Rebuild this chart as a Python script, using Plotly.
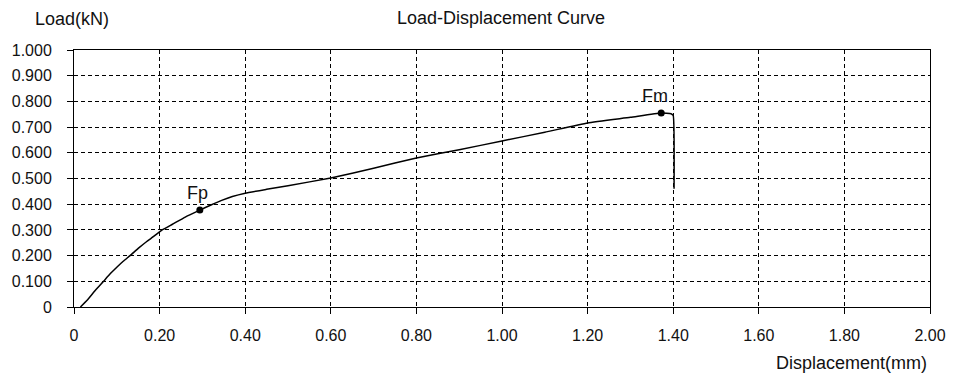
import plotly.graph_objects as go

# Curve data (displacement in mm, load in kN)
disp = [0.015, 0.03, 0.05, 0.069, 0.085, 0.10, 0.115, 0.131, 0.15, 0.17, 0.18,
        0.206, 0.23, 0.26, 0.294, 0.32, 0.345, 0.37, 0.40, 0.45, 0.50, 0.60,
        0.70, 0.80, 0.90, 1.00, 1.10, 1.20, 1.30, 1.372, 1.395, 1.400, 1.402]
load = [0.0, 0.025, 0.065, 0.10, 0.13, 0.155, 0.178, 0.20, 0.228, 0.255, 0.267,
        0.30, 0.322, 0.35, 0.377, 0.397, 0.415, 0.43, 0.443, 0.458, 0.472, 0.502,
        0.54, 0.58, 0.612, 0.646, 0.68, 0.716, 0.738, 0.755, 0.752, 0.745, 0.46]

# Marked points
point_names = ["Fp", "Fm"]
point_disp = [0.294, 1.372]
point_load = [0.377, 0.755]

# Tick labels
x_tickvals = [0, 0.2, 0.4, 0.6, 0.8, 1.0, 1.2, 1.4, 1.6, 1.8, 2.0]
x_ticktext = ["0", "0.20", "0.40", "0.60", "0.80", "1.00", "1.20", "1.40", "1.60", "1.80", "2.00"]
y_tickvals = [0, 0.1, 0.2, 0.3, 0.4, 0.5, 0.6, 0.7, 0.8, 0.9, 1.0]
y_ticktext = ["0", "0.100", "0.200", "0.300", "0.400", "0.500", "0.600", "0.700", "0.800", "0.900", "1.000"]

FONT = "Liberation Sans, Arial, sans-serif"
TXT = "#111111"

fig = go.Figure()
fig.add_trace(go.Scatter(x=disp, y=load, mode="lines",
                         line=dict(color="black", width=1.5, shape="spline", smoothing=0.4),
                         hoverinfo="skip"))
fig.add_trace(go.Scatter(x=point_disp, y=point_load, mode="markers",
                         marker=dict(color="black", size=7), hoverinfo="skip"))

shifts = [-2, -6]
for name, px, py, sx in zip(point_names, point_disp, point_load, shifts):
    fig.add_annotation(x=px, y=py, text=name, showarrow=False, xanchor="center",
                       yanchor="bottom", yshift=5, xshift=sx,
                       font=dict(family=FONT, size=18, color=TXT))

axis_common = dict(showline=True, linecolor="black", linewidth=1, mirror=True,
                   ticks="outside", ticklen=6, tickcolor="black", tickwidth=1,
                   showgrid=True, gridcolor="black", gridwidth=1, griddash="4px,3px",
                   zeroline=False, tickfont=dict(family=FONT, size=16, color=TXT))

fig.update_xaxes(range=[0, 2], tickvals=x_tickvals, ticktext=x_ticktext,
                 ticklabelstandoff=8, **axis_common)
fig.update_yaxes(range=[0, 1], tickvals=y_tickvals, ticktext=y_ticktext,
                 ticklabelstandoff=12, **axis_common)

fig.add_annotation(xref="paper", yref="paper", x=-0.002, y=1.1206, text="Load(kN)",
                   showarrow=False, xanchor="center", yanchor="middle",
                   font=dict(family=FONT, size=18, color=TXT))
fig.add_annotation(xref="paper", yref="paper", x=0.499, y=1.1245, text="Load-Displacement Curve",
                   showarrow=False, xanchor="center", yanchor="middle",
                   font=dict(family=FONT, size=18, color=TXT))
fig.add_annotation(xref="paper", yref="paper", x=0.9988, y=-0.218, text="Displacement(mm)",
                   showarrow=False, xanchor="right", yanchor="middle",
                   font=dict(family=FONT, size=18, color=TXT))

fig.update_layout(width=958, height=375, showlegend=False,
                  margin=dict(l=74, r=24, t=50, b=68),
                  paper_bgcolor="white", plot_bgcolor="white")

fig.write_html("out.html", config={"displayModeBar": False},
               post_script="document.body.style.margin='0';document.body.style.overflow='hidden';")
